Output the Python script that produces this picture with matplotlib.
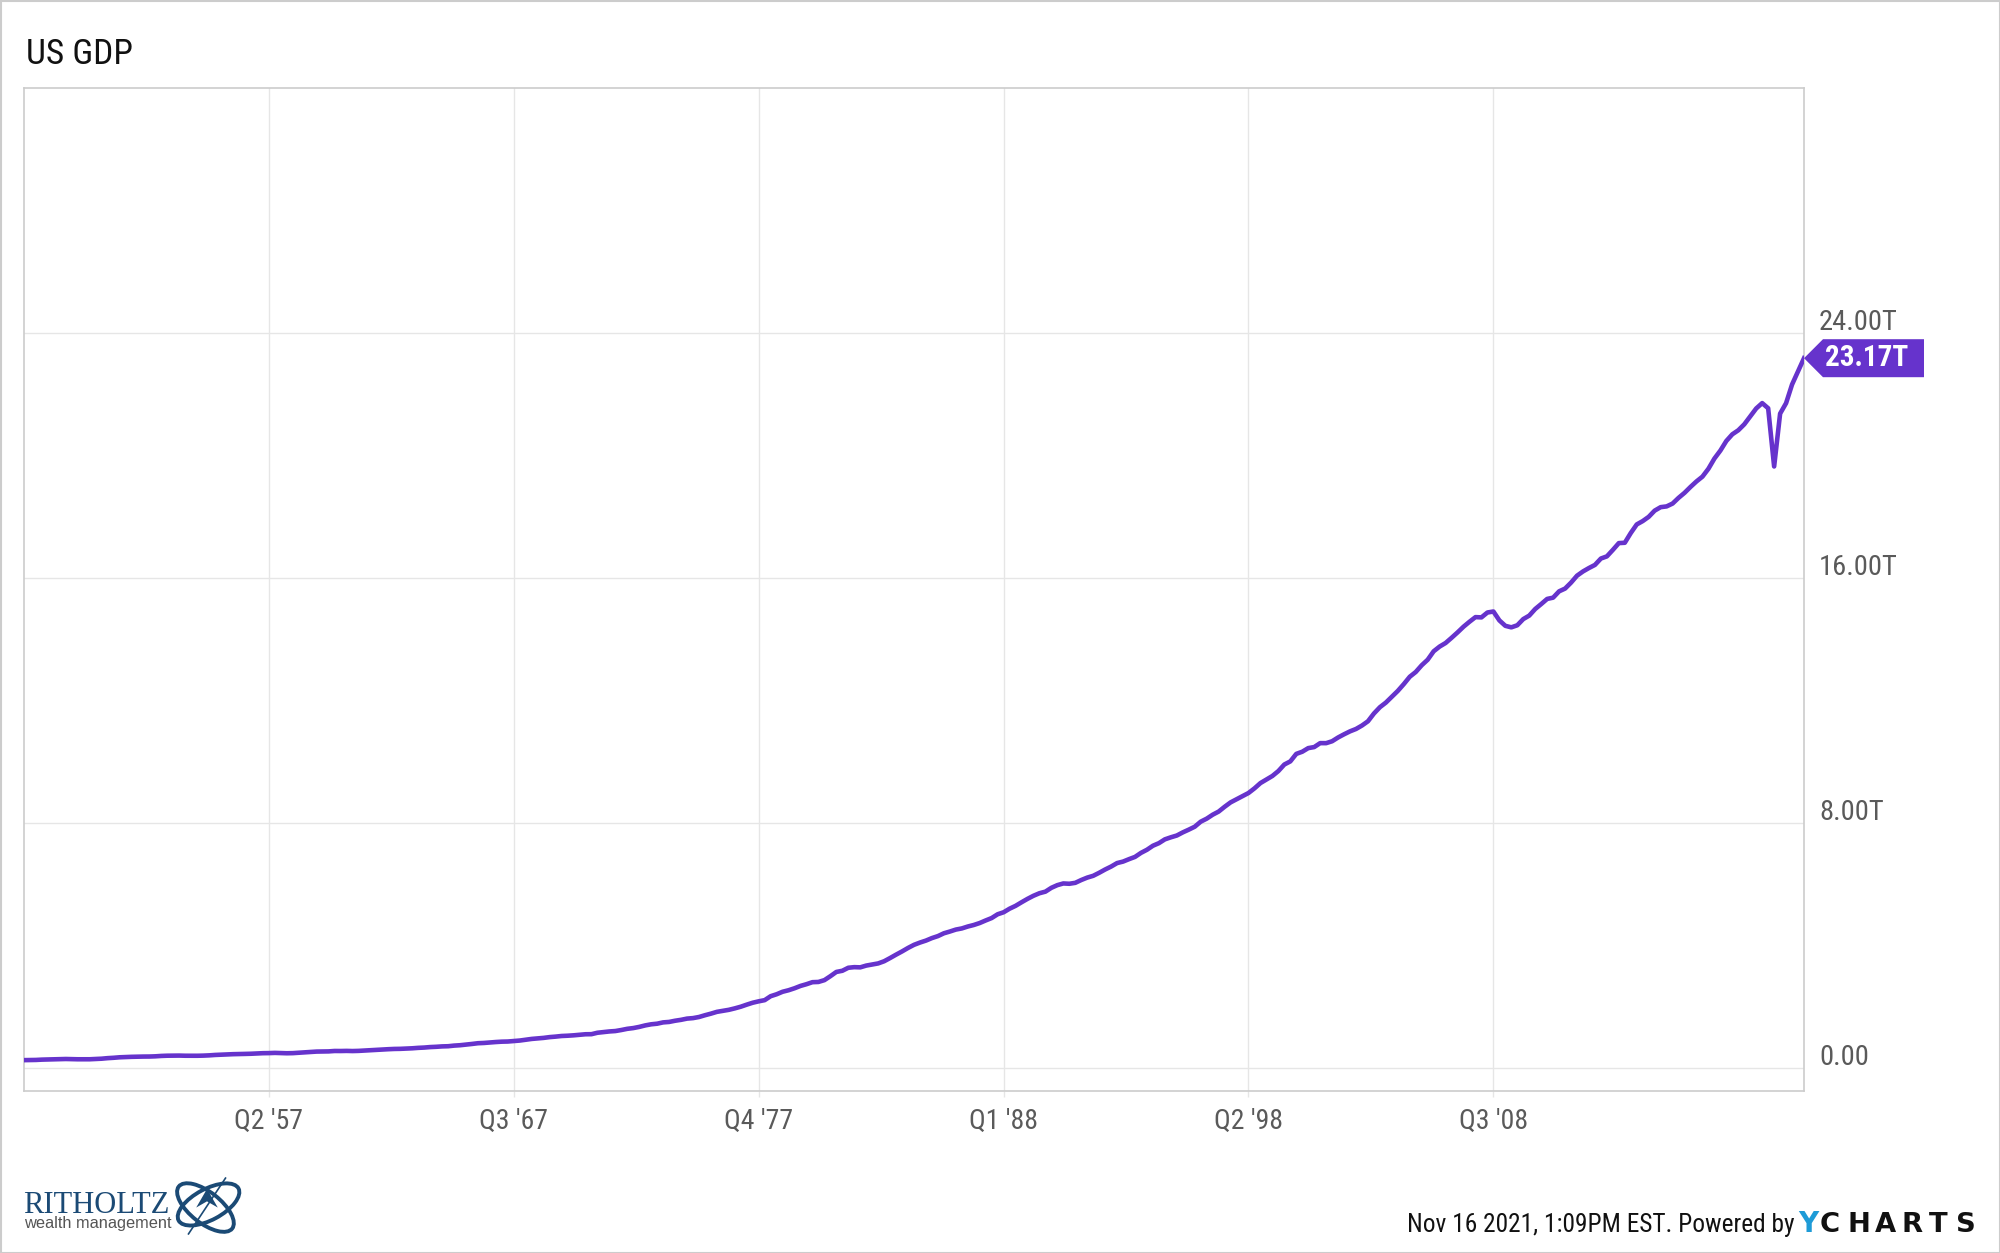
import matplotlib
matplotlib.use('Agg')
import matplotlib.pyplot as plt
import matplotlib.transforms as mtrans
import numpy as np
import pandas as pd
from matplotlib import font_manager
from matplotlib.patches import Polygon, Ellipse, Rectangle

# Quarterly nominal US GDP (SAAR, billions of dollars), 1947Q1 .. 2021Q3
start_quarter = '1947Q1'
gdp_billions = [
    243.2, 246.0, 249.6, 259.7,   # 1947
    265.7, 272.6, 279.2, 280.4,   # 1948
    275.0, 271.4, 273.0, 271.7,   # 1949
    281.0, 290.4, 308.1, 319.9,   # 1950
    336.0, 344.1, 351.3, 356.2,   # 1951
    359.8, 361.0, 367.7, 380.8,   # 1952
    387.9, 391.2, 391.8, 386.8,   # 1953
    385.8, 386.1, 390.5, 399.1,   # 1954
    412.8, 422.2, 430.9, 437.8,   # 1955
    440.5, 446.8, 452.0, 461.3,   # 1956
    470.0, 472.8, 480.1, 475.5,   # 1957
    467.9, 471.9, 485.8, 499.6,   # 1958
    510.3, 522.7, 525.1, 528.8,   # 1959
    542.6, 541.1, 545.1, 540.2,   # 1960
    545.4, 557.0, 568.2, 581.6,   # 1961
    594.0, 600.4, 609.0, 612.3,   # 1962
    621.7, 629.9, 644.4, 653.9,   # 1963
    669.8, 678.7, 692.0, 697.3,   # 1964
    717.8, 730.2, 749.3, 771.9,   # 1965
    795.7, 804.3, 820.1, 835.0,   # 1966
    846.6, 851.3, 866.6, 883.1,   # 1967
    911.2, 936.3, 952.3, 970.1,   # 1968
    995.4, 1011.4, 1032.0, 1040.7,   # 1969
    1053.5, 1070.1, 1088.5, 1091.1,  # 1970
    1137.8, 1159.4, 1180.3, 1193.7,  # 1971
    1227.2, 1266.4, 1290.6, 1328.9,  # 1972
    1377.5, 1413.9, 1433.8, 1476.3,  # 1973
    1491.2, 1530.1, 1560.0, 1599.7,  # 1974
    1616.1, 1651.9, 1709.8, 1761.8,  # 1975
    1820.5, 1852.3, 1886.6, 1934.3,  # 1976
    1988.6, 2055.9, 2118.5, 2164.3,  # 1977
    2202.8, 2331.6, 2395.1, 2476.9,  # 1978
    2526.6, 2591.2, 2667.6, 2723.9,  # 1979
    2789.8, 2797.4, 2856.5, 2985.6,  # 1980
    3124.2, 3162.5, 3260.6, 3280.8,  # 1981
    3274.3, 3332.0, 3366.3, 3402.6,  # 1982
    3473.4, 3578.8, 3689.2, 3794.7,  # 1983
    3908.1, 4009.6, 4084.3, 4148.6,  # 1984
    4230.2, 4294.9, 4386.8, 4444.1,  # 1985
    4507.9, 4545.3, 4607.7, 4657.6,  # 1986
    4722.2, 4806.2, 4884.6, 5008.0,  # 1987
    5073.4, 5190.0, 5282.8, 5399.5,  # 1988
    5511.3, 5612.5, 5695.4, 5747.2,  # 1989
    5872.7, 5960.0, 6015.1, 6004.7,  # 1990
    6035.2, 6126.9, 6205.9, 6264.5,  # 1991
    6363.1, 6470.8, 6566.6, 6680.8,  # 1992
    6729.5, 6808.9, 6882.1, 7013.7,  # 1993
    7115.7, 7246.9, 7331.1, 7455.3,  # 1994
    7522.3, 7580.9, 7683.1, 7772.6,  # 1995
    7868.5, 8032.8, 8131.4, 8259.8,  # 1996
    8362.7, 8518.8, 8662.8, 8765.9,  # 1997
    8866.5, 8969.7, 9121.1, 9294.0,  # 1998
    9411.7, 9526.2, 9686.6, 9900.2,  # 1999
    10002.2, 10247.7, 10318.2, 10435.7,  # 2000
    10470.2, 10599.0, 10598.0, 10660.5,  # 2001
    10783.5, 10887.5, 10984.0, 11061.4,  # 2002
    11174.1, 11312.8, 11566.7, 11772.2,  # 2003
    11923.4, 12112.8, 12305.3, 12527.2,  # 2004
    12767.3, 12922.7, 13142.9, 13324.2,  # 2005
    13599.2, 13753.4, 13870.2, 14039.6,  # 2006
    14215.7, 14402.1, 14564.1, 14715.1,  # 2007
    14706.5, 14865.7, 14899.0, 14608.2,  # 2008
    14430.9, 14381.2, 14448.9, 14651.0,  # 2009
    14764.6, 14980.2, 15141.6, 15309.5,  # 2010
    15351.4, 15557.5, 15647.7, 15842.3,  # 2011
    16068.8, 16207.1, 16319.5, 16420.4,  # 2012
    16629.1, 16699.6, 16911.1, 17133.1,  # 2013
    17144.3, 17462.7, 17743.2, 17852.5,  # 2014
    17991.3, 18193.7, 18307.0, 18332.1,  # 2015
    18425.3, 18611.6, 18775.5, 18968.0,  # 2016
    19148.2, 19304.5, 19561.9, 19894.8,  # 2017
    20155.5, 20470.2, 20687.3, 20819.3,  # 2018
    21013.1, 21272.4, 21531.8, 21706.5,  # 2019
    21538.0, 19636.7, 21362.4, 21704.7,  # 2020
    22313.9, 22741.0, 23173.5,           # 2021
]

x_tick_labels = ["Q2 '57", "Q3 '67", "Q4 '77", "Q1 '88", "Q2 '98", "Q3 '08"]
y_ticks = [0, 8, 16, 24]
y_tick_labels = ['0.00', '8.00T', '16.00T', '24.00T']
title = 'US GDP'
footer = 'Nov 16 2021, 1:09PM EST. Powered by'

purple = '#6633cc'
grid_col = '#e6e6e6'
frame_col = '#cccccc'
label_col = '#5a5a5a'

# pick a condensed face if one is installed
installed = {f.name for f in font_manager.fontManager.ttflist}
if 'Roboto Condensed' in installed:
    cfont = 'Roboto Condensed'
elif 'Liberation Sans Narrow' in installed:
    cfont = 'Liberation Sans Narrow'
else:
    cfont = 'Roboto'
plt.rcParams['font.family'] = [cfont, 'DejaVu Sans']

gdp = np.array(gdp_billions) / 1000.0
quarters = pd.period_range(start_quarter, periods=len(gdp), freq='Q')
qlabels = ["Q%d '%s" % (p.quarter, str(p.year)[2:]) for p in quarters]
x = np.arange(len(gdp))
tick_pos = [qlabels.index(l) for l in x_tick_labels]

W, H = 2000, 1253
fig = plt.figure(figsize=(W / 100, H / 100), dpi=100)
ax = fig.add_axes([24 / W, 162 / H, 1780 / W, 1003 / H])

ax.plot(x, gdp, color=purple, lw=3.3, solid_joinstyle='round', zorder=3)
ax.set_xlim(0, len(gdp) - 1)
ax.set_ylim(-0.765, 32.0)

ax.set_xticks(tick_pos)
ax.set_xticklabels(x_tick_labels)
ax.set_yticks(y_ticks)
ax.set_yticklabels([])
ax.grid(True, color=grid_col, lw=1.0)
ax.set_axisbelow(True)
ax.tick_params(axis='x', length=4, color=grid_col, width=1.0, pad=8,
               labelsize=20, labelcolor=label_col)
ax.tick_params(axis='y', length=0, left=False, right=False)
for s in ax.spines.values():
    s.set_color(frame_col)
    s.set_linewidth(1.2)

# y labels sit just above their gridlines, right of the plot
ylab_tr = mtrans.offset_copy(ax.get_yaxis_transform(), fig=fig, x=15, y=3,
                             units='dots')
for v, lab in zip(y_ticks, y_tick_labels):
    ax.text(1.0, v, lab, transform=ylab_tr, fontsize=20.5, color=label_col,
            ha='left', va='baseline', clip_on=False)

ident = mtrans.IdentityTransform()
fig.text(26, H - 64, title, transform=ident, fontsize=25.5, color='#111111',
         ha='left', va='baseline')

# last value flag
tx, ty = ax.transData.transform((x[-1], gdp[-1]))
flag = Polygon([(tx, ty), (tx + 19, ty + 19), (tx + 120, ty + 19),
                (tx + 120, ty - 19), (tx + 19, ty - 19)], closed=True,
               facecolor=purple, edgecolor='none', transform=ident)
fig.add_artist(flag)
fig.text(tx + 63, ty, '%.2fT' % gdp[-1], transform=ident, color='white',
         fontsize=21, fontweight='bold', ha='center', va='center')

# footer
base = H - 1232
fig.text(1795, base, footer, transform=ident, fontsize=18.3,
         color='#111111', ha='right', va='baseline')
fig.text(1798, base, 'Y', transform=ident, fontsize=20,
         fontweight='bold', color='#1e9bd7', ha='left', va='baseline',
         family='DejaVu Sans')
for i, ch in enumerate('CHARTS'):
    fig.text(1820 + i * 27.3, base, ch, transform=ident, fontsize=19.7,
             fontweight='bold', color='#111111', ha='left', va='baseline',
             family='DejaVu Sans')

# Ritholtz logo
navy = '#1b4a75'
fig.text(23, H - 1213, 'RITHOLTZ', transform=ident, fontsize=22,
         color=navy, ha='left', va='baseline', family='Liberation Serif')
fig.text(24, H - 1228, 'wealth management', transform=ident, fontsize=11.8,
         color='#555555', ha='left', va='baseline', family='Liberation Sans')
lax = fig.add_axes([170 / W, (H - 1237) / H, 74 / W, 62 / H])
lax.set_xlim(-1.2, 1.2)
lax.set_ylim(-1, 1)
lax.axis('off')
lax.add_patch(Ellipse((0.05, 0.05), 2.2, 1.0, angle=28, fill=False,
                      edgecolor=navy, lw=2.8))
lax.add_patch(Ellipse((-0.05, -0.05), 2.2, 1.0, angle=-38, fill=False,
                      edgecolor=navy, lw=2.8))
lax.plot([-0.6, 0.6], [-0.9, 0.9], color=navy, lw=1.2)
lax.add_patch(Polygon([(-0.35, -0.05), (0.0, 0.55), (0.35, -0.05), (0.0, 0.15)],
                      closed=True, facecolor=navy, edgecolor='none'))

# outer frame
fig.add_artist(Rectangle((0.5, 0.5), W - 1, H - 1, transform=ident,
                         fill=False, edgecolor=frame_col, lw=1.5))

fig.savefig('out.png', dpi=100, facecolor='white')
